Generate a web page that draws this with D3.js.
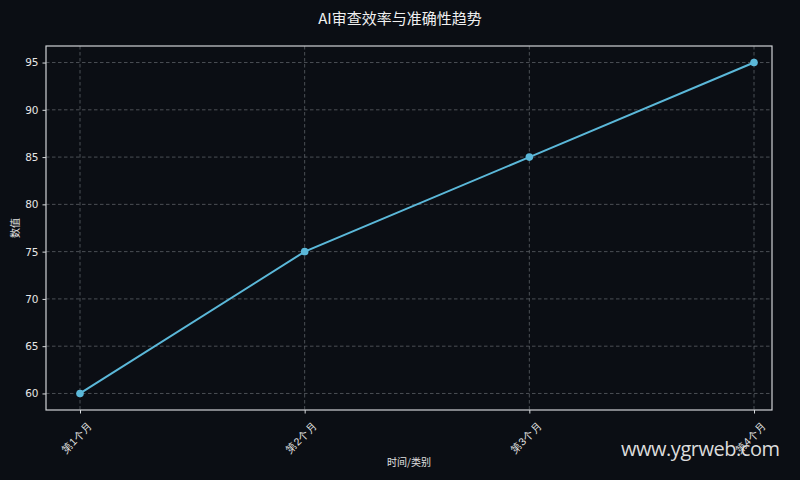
<!DOCTYPE html>
<html>
<head>
<meta charset="utf-8">
<script src="https://cdn.jsdelivr.net/npm/d3@7"></script>
<style>
  html, body { margin: 0; padding: 0; background: #0b0e14; }
  svg { display: block; font-family: "Noto Sans CJK SC", "DejaVu Sans", sans-serif; }
</style>
</head>
<body>
<svg id="chart"></svg>
<script>
const categories = ["第1个月", "第2个月", "第3个月", "第4个月"];
const values = [60, 75, 85, 95];
const yTicks = [60, 65, 70, 75, 80, 85, 90, 95];

const width = 800, height = 480;
const margin = { top: 46, right: 28, bottom: 70, left: 46 };
const innerW = width - margin.left - margin.right;
const innerH = height - margin.top - margin.bottom;

const svg = d3.select("#chart").attr("width", width).attr("height", height);
svg.append("rect").attr("width", width).attr("height", height).attr("fill", "#0b0e14");

const chart = svg.append("g").attr("transform", `translate(${margin.left},${margin.top})`);

const x = d3.scaleLinear().domain([0, categories.length - 1]).range([34, innerW - 18]);
const yExt = d3.extent(values);
const pad = (yExt[1] - yExt[0]) * 0.05;
const y = d3.scaleLinear().domain([yExt[0] - pad, yExt[1] + pad]).range([innerH, 0]);

// grid
chart.append("g").selectAll("line").data(yTicks).join("line")
    .attr("x1", 0).attr("x2", innerW)
    .attr("y1", d => y(d)).attr("y2", d => y(d))
    .attr("stroke", "#5c6066").attr("stroke-dasharray", "3.5,2.5").attr("stroke-width", 0.8);
chart.append("g").selectAll("line").data(categories).join("line")
    .attr("x1", (d, i) => x(i)).attr("x2", (d, i) => x(i))
    .attr("y1", 0).attr("y2", innerH)
    .attr("stroke", "#5c6066").attr("stroke-dasharray", "3.5,2.5").attr("stroke-width", 0.8);

// axes
const yAxis = chart.append("g")
    .call(d3.axisLeft(y).tickValues(yTicks).tickSize(3.5).tickPadding(4));
yAxis.select(".domain").remove();
yAxis.selectAll("line").attr("stroke", "#d8dbde");
yAxis.selectAll("text").attr("fill", "#e6e6e6").attr("font-size", 10.5)
    .attr("font-family", "DejaVu Sans, sans-serif");

const xAxis = chart.append("g").attr("transform", `translate(0,${innerH})`)
    .call(d3.axisBottom(x).tickValues(d3.range(categories.length)).tickFormat(i => categories[i]).tickSize(3.5));
xAxis.select(".domain").remove();
xAxis.selectAll("line").attr("stroke", "#d8dbde");
xAxis.selectAll("text")
    .attr("fill", "#e6e6e6").attr("font-size", 10.5)
    .attr("text-anchor", "end")
    .attr("dx", 0).attr("dy", 0)
    .attr("transform", "translate(8,12) rotate(-45)");

// frame
chart.append("rect").attr("width", innerW).attr("height", innerH)
    .attr("fill", "none").attr("stroke", "#d0d3d6").attr("stroke-width", 1.2);

// line + points
const line = d3.line().x((d, i) => x(i)).y(d => y(d));
chart.append("path").datum(values)
    .attr("d", line).attr("fill", "none")
    .attr("stroke", "#5bb8d9").attr("stroke-width", 2);
chart.append("g").selectAll("circle").data(values).join("circle")
    .attr("cx", (d, i) => x(i)).attr("cy", d => y(d)).attr("r", 3.8)
    .attr("fill", "#5bb8d9");

// titles
svg.append("text").attr("x", width / 2).attr("y", 24)
    .attr("text-anchor", "middle").attr("fill", "#f0f0f0").attr("font-size", 15)
    .text("AI审查效率与准确性趋势");
svg.append("text").attr("x", 409).attr("y", 466)
    .attr("text-anchor", "middle").attr("fill", "#e0e0e0").attr("font-size", 10)
    .text("时间/类别");
svg.append("text").attr("transform", `translate(19,${margin.top + innerH / 2}) rotate(-90)`)
    .attr("text-anchor", "middle").attr("fill", "#e0e0e0").attr("font-size", 10)
    .text("数值");

// watermark
svg.append("text").attr("x", 780).attr("y", 456)
    .attr("text-anchor", "end").attr("fill", "#dcdcdc").attr("font-size", 20)
    .attr("font-family", "Open Sans, DejaVu Sans, sans-serif")
    .attr("textLength", 159)
    .text("www.ygrweb.com");
</script>
</body>
</html>
